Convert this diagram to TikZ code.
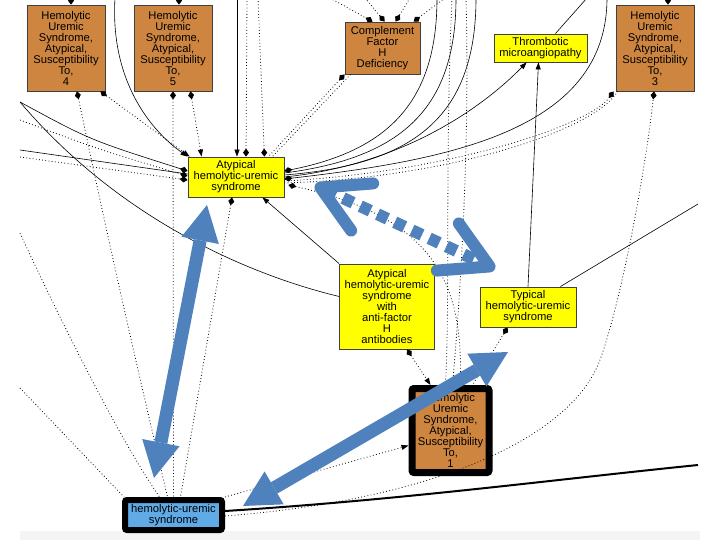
\documentclass[tikz,border=0pt]{standalone}
\usepackage{fontspec}
\setmainfont{Liberation Sans}
\usetikzlibrary{arrows.meta,calc}
\definecolor{husorange}{RGB}{205,133,63}
\definecolor{husyellow}{RGB}{255,255,0}
\definecolor{husblue}{RGB}{96,170,230}
\definecolor{arrowblue}{RGB}{79,129,189}
\definecolor{bandgrey}{RGB}{244,244,244}
\begin{document}
\begin{tikzpicture}[x=1pt,y=-1pt,
 every node/.style={font=\fontsize{11.2}{11}\selectfont, align=center, inner sep=0pt},
 obox/.style={draw=black!75, line width=0.8pt, fill=husorange, minimum width=78pt, minimum height=86pt},
 ybox/.style={draw=black!75, line width=0.8pt, fill=husyellow},
 h1box/.style={draw=black, line width=7pt, fill=husorange, rounded corners=2pt, minimum width=77pt, minimum height=84pt},
 hbox/.style={draw=black, line width=6pt, fill=husblue, rounded corners=2pt, minimum width=97pt, minimum height=30pt},
 dotline/.style={draw=black, line width=0.8pt, dash pattern=on 0.8pt off 2.4pt},
 thinline/.style={draw=black, line width=0.6pt},
 thickline/.style={draw=black, line width=2pt},
 todia/.style={-{Diamond[length=8pt,width=6pt]}},
 fromdia/.style={{Diamond[length=8pt,width=6pt]}-},
 totri/.style={-{Triangle[length=7pt,width=5pt]}},
 diatri/.style={{Diamond[length=8pt,width=6pt]}-{Triangle[length=7pt,width=5pt]}},
 bigarrow/.style={draw=arrowblue, line width=13pt,
   {Triangle[length=36pt,width=38pt,line width=0pt]}-{Triangle[length=36pt,width=38pt,line width=0pt]}},
 dasharrow/.style={draw=arrowblue, line width=12pt, dash pattern=on 11pt off 8pt,
   {Straight Barb[length=46pt,width=52pt,round]}-{Straight Barb[length=46pt,width=52pt,round]}}
]
\useasboundingbox (0,0) rectangle (720,540);
\fill[white] (0,0) rectangle (720,540);
\fill[bandgrey] (20,531) rectangle (700,540);

% nodes
\node[obox] (h4) at (66,48) {Hemolytic\\Uremic\\Syndrome,\\Atypical,\\Susceptibility\\To,\\4};
\node[obox] (h5) at (173,48) {Hemolytic\\Uremic\\Syndrome,\\Atypical,\\Susceptibility\\To,\\5};
\node[obox, minimum width=75pt, minimum height=52pt] (cfh) at (382.5,48) {Complement\\Factor\\H\\Deficiency};
\node[ybox, minimum width=93pt, minimum height=28pt] (tma) at (540.5,48) {Thrombotic\\microangiopathy};
\node[obox] (h3) at (655,48) {Hemolytic\\Uremic\\Syndrome,\\Atypical,\\Susceptibility\\To,\\3};
\node[ybox, minimum width=96pt, minimum height=40pt] (a) at (236,177) {Atypical\\hemolytic-uremic\\syndrome};
\node[ybox, minimum width=95pt, minimum height=85pt] (af) at (387,306.5) {Atypical\\hemolytic-uremic\\syndrome\\with\\anti-factor\\H\\antibodies};
\node[ybox, minimum width=96pt, minimum height=40pt] (t) at (528,307) {Typical\\hemolytic-uremic\\syndrome};
\node[h1box] (h1) at (450.5,430.5) {Hemolytic\\Uremic\\Syndrome,\\Atypical,\\Susceptibility\\To,\\1};
\node[hbox] (h) at (173.5,515) {hemolytic-uremic\\syndrome};

% free ends
\coordinate (u1) at (115,-2);
\coordinate (u2) at (237,-2);
\coordinate (u3) at (247,-2);
\coordinate (u4) at (258,-2);
\coordinate (u5) at (437,-2);
\coordinate (u6) at (456,-2);
\coordinate (u7) at (476,-2);
\coordinate (u8) at (452,-2);
\coordinate (u9) at (466,-2);
\coordinate (u10) at (587,-2);
\coordinate (u11) at (607,-2);
\coordinate (u12) at (71,-2);
\coordinate (u13) at (179,-2);
\coordinate (u14) at (668,-2);
\coordinate (u15) at (330,-2);
\coordinate (u16) at (365,-2);
\coordinate (u17) at (410,-2);
\coordinate (u18) at (445,-2);
\coordinate (l1) at (20,102);
\coordinate (l2) at (20,120);
\coordinate (l3) at (20,150);
\coordinate (l4) at (20,157);
\coordinate (l5) at (20,233);
\coordinate (l6) at (20,388);
\coordinate (r1) at (698,204);
\coordinate (r2) at (698,465);

% connectors into a
\draw[thinline, totri] (u1) .. controls (110,80) and (150,130) .. (a.north west);
\draw[dotline, diatri] ($(h4.south east)+(-5,0)$) -- ($(a.north west)+(2,0)$);
\draw[dotline, diatri] ($(h5.south east)+(-22,0)$) -- ($(a.north west)+(14,0)$);
\draw[thinline, totri] (u2) -- ($(a.north)+(1,0)$);
\draw[dotline, todia] (u3) -- ($(a.north)+(10,0)$);
\draw[dotline, todia] (u4) -- ($(a.north east)+(-20,0)$);
\draw[dotline, fromdia] (cfh.south west) -- ($(a.north east)+(-16,0)$);
\draw[dotline] ($(cfh.south west)+(6,0)$) -- ($(a.north east)+(-12,0)$);
\draw[thinline, todia] (l1) .. controls (90,140) .. ($(a.west)+(0,-6)$);
\draw[dotline, todia] (l2) .. controls (100,150) .. ($(a.west)+(0,-1)$);
\draw[thinline] (l3) -- ($(a.west)+(0,-3)$);
\draw[dotline, todia] (l4) -- ($(a.west)+(0,3)$);

% out of a, east side
\draw[thinline, fromdia] ($(a.east)+(0,-6)$) .. controls (390,150) and (437,100) .. (u5);
\draw[thinline] ($(a.east)+(0,-4)$) .. controls (400,158) and (456,110) .. (u6);
\draw[thinline] ($(a.east)+(0,-2)$) .. controls (410,165) and (476,120) .. (u7);
\draw[thinline, totri] ($(a.east)+(0,0)$) .. controls (400,165) and (480,110) .. ($(tma.south west)+(33,0)$);
\draw[thinline, fromdia] ($(a.east)+(0,2)$) .. controls (450,160) and (607,130) .. (u11);
\draw[dotline, todia] ($(a.east)+(0,4)$) .. controls (450,172) and (590,125) .. ($(h3.south west)+(-2,0)$);
\draw[dotline] ($(a.east)+(0,6)$) .. controls (450,178) and (595,130) .. ($(h3.south west)+(2,0)$);
\draw[dotline, fromdia] ($(a.east)+(4,8)$) .. controls (450,220) and (462,300) .. ($(h1.north)+(10,0)$);

% others
\draw[thinline, totri] (af.north west) -- ($(a.south east)+(-22,0)$);
\draw[thinline] (l1) .. controls (120,220) and (250,275) .. ($(af.west)+(0,-10)$);
\draw[dotline, fromdia] ($(a.south)+(-4,0)$) -- ($(h.north)+(7,0)$);
\draw[dotline, fromdia] ($(h4.south)+(11,0)$) .. controls (112,260) and (145,400) .. ($(h.north)+(-6,0)$);
\draw[dotline, fromdia] (h5.south) -- (h.north);
\draw[dotline] (l5) .. controls (60,320) and (120,440) .. ($(h.north)+(-14,0)$);
\draw[dotline] (l6) -- ($(h.north west)+(2,0)$);
\draw[dotline, totri] (h.north east) -- ($(h1.west)+(0,15)$);
\draw[thickline] ($(h.east)+(0,-4)$) .. controls (400,500) and (550,480) .. (r2);
\draw[dotline, todia] ($(h.east)+(0,1)$) .. controls (430,500) and (570,440) .. (600,360) .. controls (625,290) and (648,150) .. ($(h3.south)+(-1,0)$);
\draw[dotline, diatri] ($(af.south)+(20,0)$) -- ($(h1.north)+(-20,0)$);
\draw[dotline, fromdia] ($(t.south west)+(28,0)$) -- ($(h1.north)+(22,0)$);
\draw[dotline] (u8) .. controls (445,150) and (450,300) .. ($(h1.north)+(-5,0)$);
\draw[dotline] (u9) .. controls (470,150) and (460,300) .. ($(h1.north)+(2,0)$);
\draw[thinline, totri] (t.north) -- ($(tma.south)+(-2,0)$);
\draw[thinline] ($(t.north east)+(-16,0)$) -- (r1);
\draw[thinline] ($(tma.north east)+(-32,0)$) -- (u10);
\draw[dotline, todia] (u14) -- ($(h3.north)+(13,0)$);
\draw[dotline, todia] (u12) -- ($(h4.north)+(5,0)$);
\draw[dotline, todia] (u13) -- ($(h5.north)+(6,0)$);
\draw[dotline, todia] (u15) -- ($(cfh.north west)+(28,0)$);
\draw[dotline, todia] (u16) -- ($(cfh.north west)+(40,0)$);
\draw[dotline, todia] (u17) -- ($(cfh.north west)+(51,0)$);
\draw[dotline, todia] (u18) -- ($(cfh.north west)+(69,0)$);

% big blue annotation arrows
\coordinate (p1) at (207,205);
\coordinate (p2) at (154,478);
\coordinate (p3) at (243,506);
\coordinate (p4) at (508,352);
\coordinate (p5) at (315,185);
\coordinate (p6) at (495,269);
\draw[bigarrow] (p1) -- (p2);
\draw[bigarrow] (p3) -- (p4);
\draw[dasharrow] (p5) -- (p6);
\end{tikzpicture}
\end{document}
